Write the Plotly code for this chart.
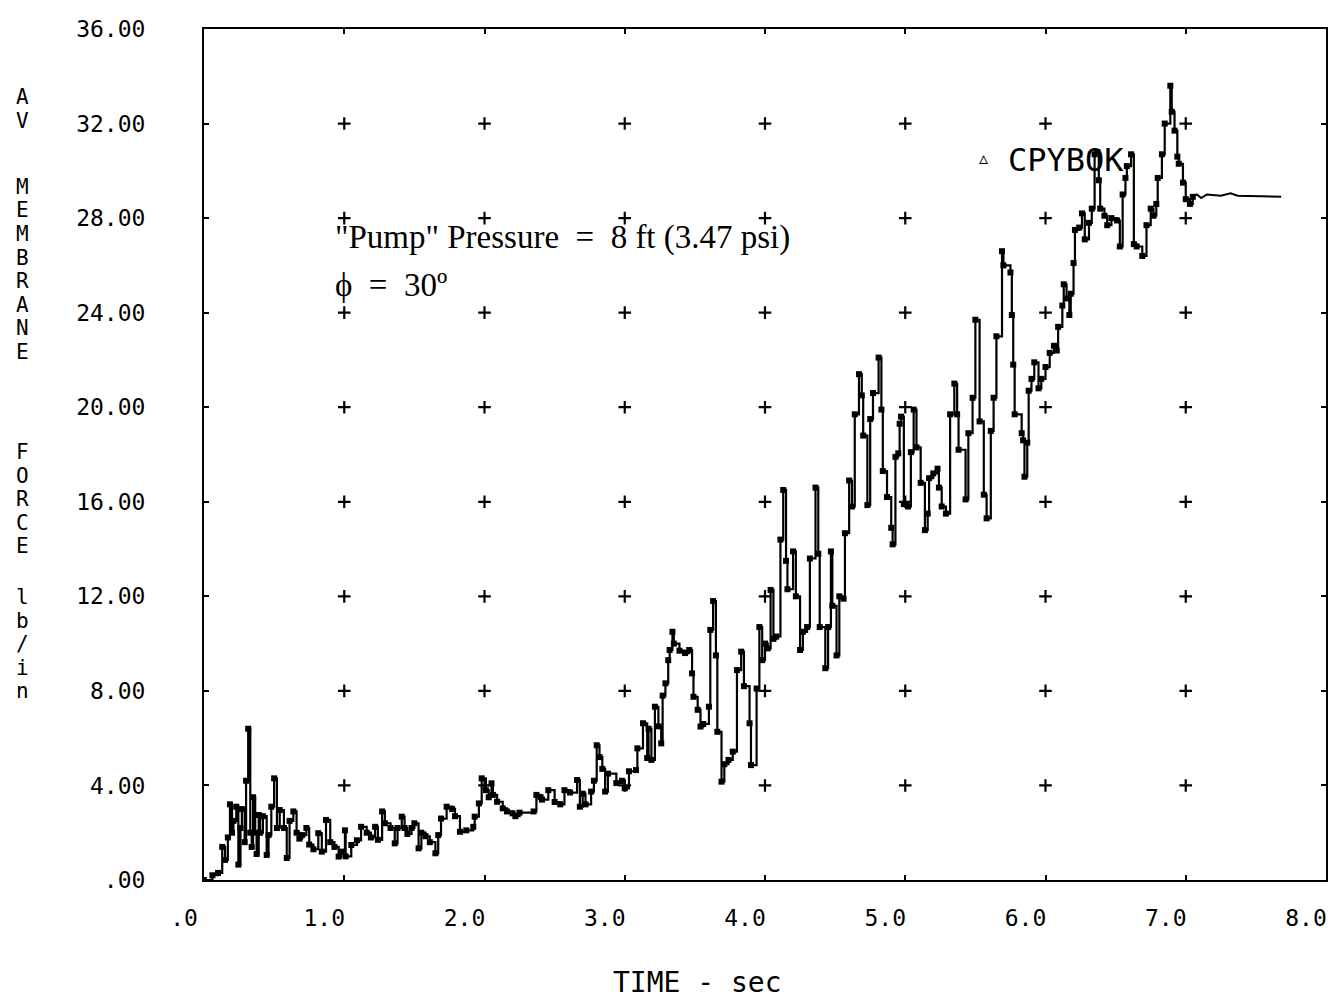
import plotly.graph_objects as go

# ---------------- data ----------------
t_vals = [0.00, 0.06, 0.10, 0.13, 0.15, 0.17, 0.185, 0.20, 0.21, 0.23, 0.245, 0.26, 0.27, 0.29, 0.30, 0.315,
          0.33, 0.34, 0.35, 0.365, 0.375, 0.39, 0.40, 0.42, 0.447, 0.46, 0.48, 0.50, 0.52, 0.54, 0.57, 0.59,
          0.61, 0.637, 0.66, 0.68, 0.70, 0.73, 0.75, 0.78, 0.815, 0.84, 0.87, 0.90, 0.93, 0.96, 0.98, 1.005,
          1.01, 1.05, 1.09, 1.12, 1.16, 1.19, 1.22, 1.24, 1.27, 1.29, 1.33, 1.36, 1.38, 1.41, 1.43, 1.45,
          1.48, 1.50, 1.53, 1.55, 1.58, 1.61, 1.65, 1.67, 1.69, 1.73, 1.77, 1.79, 1.825, 1.87, 1.92, 1.93,
          1.96, 1.98, 2.01, 2.03, 2.05, 2.06, 2.09, 2.13, 2.16, 2.20, 2.22, 2.25, 2.35, 2.37, 2.40, 2.41,
          2.455, 2.50, 2.54, 2.57, 2.61, 2.66, 2.68, 2.70, 2.72, 2.76, 2.78, 2.80, 2.82, 2.84, 2.86, 2.88,
          2.94, 2.98, 3.00, 3.03, 3.08, 3.09, 3.13, 3.16, 3.17, 3.19, 3.215, 3.24, 3.26, 3.27, 3.29, 3.31,
          3.32, 3.34, 3.35, 3.39, 3.43, 3.46, 3.48, 3.49, 3.52, 3.54, 3.56, 3.60, 3.61, 3.63, 3.65, 3.66,
          3.69, 3.71, 3.74, 3.77, 3.80, 3.83, 3.85, 3.89, 3.90, 3.94, 3.96, 3.98, 4.00, 4.02, 4.04, 4.06,
          4.08, 4.11, 4.13, 4.15, 4.16, 4.20, 4.22, 4.25, 4.27, 4.30, 4.32, 4.36, 4.38, 4.39, 4.43, 4.45,
          4.47, 4.48, 4.51, 4.53, 4.56, 4.57, 4.60, 4.62, 4.64, 4.67, 4.69, 4.70, 4.73, 4.75, 4.77, 4.81,
          4.83, 4.84, 4.87, 4.90, 4.91, 4.93, 4.95, 4.96, 4.97, 4.99, 5.02, 5.04, 5.06, 5.08, 5.11, 5.14,
          5.16, 5.17, 5.20, 5.23, 5.24, 5.26, 5.29, 5.32, 5.35, 5.37, 5.38, 5.43, 5.45, 5.48, 5.50, 5.53,
          5.56, 5.58, 5.61, 5.63, 5.65, 5.69, 5.70, 5.75, 5.76, 5.77, 5.78, 5.83, 5.84, 5.85, 5.87, 5.88,
          5.90, 5.92, 5.95, 5.97, 6.00, 6.03, 6.06, 6.08, 6.09, 6.12, 6.13, 6.15, 6.17, 6.18, 6.20, 6.21,
          6.24, 6.26, 6.28, 6.31, 6.33, 6.35, 6.37, 6.38, 6.39, 6.42, 6.44, 6.47, 6.51, 6.53, 6.55, 6.57,
          6.58, 6.61, 6.63, 6.65, 6.69, 6.72, 6.75, 6.77, 6.79, 6.80, 6.83, 6.85, 6.89, 6.90, 6.92, 6.94,
          6.95, 6.98, 7.00, 7.03, 7.05]
force_vals = [0.0, 0.2, 0.3, 1.4, 0.85, 1.8, 3.2, 2.0, 2.5, 3.1, 0.65, 2.2, 3.0, 1.6, 4.2, 6.4,
              2.0, 1.4, 3.5, 2.0, 1.1, 2.75, 2.0, 2.7, 1.06, 1.9, 3.1, 4.3, 2.2, 2.96, 2.2, 0.93,
              2.5, 2.9, 2.0, 1.75, 1.9, 2.2, 1.5, 1.3, 1.98, 1.2, 2.54, 1.6, 1.4, 0.99, 1.2, 2.1,
              1.0, 1.48, 1.68, 2.25, 2.0, 1.8, 2.25, 1.7, 2.9, 2.4, 2.2, 1.55, 2.2, 2.68, 2.2, 1.95,
              2.2, 2.4, 1.34, 2.0, 1.85, 1.6, 1.13, 1.9, 2.6, 3.1, 3.0, 2.7, 2.04, 2.1, 2.25, 2.68,
              3.24, 4.3, 3.8, 3.5, 4.09, 3.6, 3.31, 3.03, 2.9, 2.82, 2.7, 2.85, 2.9, 3.6, 3.5, 3.4,
              3.8, 3.3, 3.2, 3.8, 3.7, 4.23, 3.1, 3.65, 3.2, 3.74, 4.2, 5.7, 5.2, 4.7, 3.74, 4.5,
              4.1, 4.2, 3.88, 4.6, 4.65, 5.57, 6.63, 5.16, 6.4, 5.08, 7.33, 6.5, 5.78, 7.8, 8.32, 9.3,
              9.73, 10.5, 10.0, 9.7, 9.6, 9.73, 8.74, 7.75, 7.2, 6.49, 6.6, 7.33, 10.58, 11.8, 9.5, 6.27,
              4.16, 4.9, 5.08, 5.43, 8.88, 9.66, 8.2, 6.63, 4.86, 8.1, 10.7, 9.3, 10.0, 9.8, 12.27, 10.2,
              10.3, 14.4, 16.5, 13.5, 12.3, 13.9, 12.0, 9.73, 10.5, 10.7, 13.6, 16.6, 13.8, 10.7, 8.96, 10.7,
              13.9, 11.6, 9.5, 12.0, 11.9, 14.67, 16.9, 15.8, 19.7, 21.4, 20.5, 18.8, 15.86, 19.5, 20.6, 22.1,
              19.9, 17.3, 16.2, 14.9, 14.2, 17.9, 18.05, 19.3, 19.6, 15.9, 15.8, 18.1, 19.9, 18.3, 16.8, 14.8,
              15.5, 17.0, 17.2, 17.4, 16.6, 15.8, 15.5, 19.7, 21.0, 19.7, 18.2, 16.1, 18.9, 20.4, 23.7, 19.4,
              16.3, 15.3, 19.0, 20.4, 23.0, 26.6, 26.0, 25.7, 23.9, 21.8, 19.7, 18.9, 18.6, 17.06, 18.5, 20.7,
              21.2, 21.9, 20.8, 21.2, 21.7, 22.3, 22.6, 22.4, 23.4, 24.3, 25.2, 24.6, 23.9, 24.8, 26.1, 27.5,
              27.6, 28.2, 27.1, 27.8, 28.4, 30.7, 30.8, 29.6, 28.4, 28.1, 27.7, 28.0, 27.9, 26.8, 29.0, 29.7,
              30.2, 30.7, 26.9, 26.8, 26.4, 27.7, 28.4, 28.1, 28.6, 29.7, 30.7, 32.0, 33.6, 32.5, 31.7, 30.6,
              30.3, 29.5, 28.8, 28.6, 28.9]
# settled tail (no markers)
tail_t = [7.05, 7.08, 7.11, 7.15, 7.25, 7.32, 7.37, 7.68]
tail_force = [28.9, 29.0, 28.85, 29.0, 28.95, 29.05, 28.95, 28.9]

x_ticks = [0, 1, 2, 3, 4, 5, 6, 7, 8]
x_tick_text = [".0", "1.0", "2.0", "3.0", "4.0", "5.0", "6.0", "7.0", "8.0"]
y_ticks = [0, 4, 8, 12, 16, 20, 24, 28, 32, 36]
y_tick_text = [".00", "4.00", "8.00", "12.00", "16.00", "20.00", "24.00", "28.00", "32.00", "36.00"]

series_name = "CPYBOK"
x_title = "TIME - sec"
y_title_chars = ["A", "V", "M", "E", "M", "B", "R", "A", "N", "E",
                 "F", "O", "R", "C", "E", "l", "b", "/", "i", "n"]
note_line1 = "\"Pump\" Pressure\u2002=\u20028 ft (3.47 psi)"
note_line2 = "\u03d5\u2002=\u200230\u00ba"

# ---------------- layout geometry (pixels) ----------------
W, H = 1339, 1000
L, R, T, B = 204, 1326, 29, 880
MONO = "DejaVu Sans Mono"
SERIF = "Liberation Serif"


def px_x(p):
    return (p - L) / (R - L)


def px_y(p):
    return (B - p) / (B - T)


fig = go.Figure()

# grid "+" marks at interior tick intersections
gx, gy = [], []
for xv in x_ticks[1:-1]:
    for yv in y_ticks[1:-1]:
        gx.append(xv)
        gy.append(yv)
fig.add_trace(go.Scatter(
    x=gx, y=gy, mode="markers", showlegend=False, hoverinfo="skip",
    marker=dict(symbol="cross-thin", size=9, line=dict(width=2.2, color="black"), color="black"),
))

fig.add_trace(go.Scatter(
    x=tail_t, y=tail_force, mode="lines", showlegend=False,
    line=dict(color="black", width=2),
))
fig.add_trace(go.Scatter(
    x=t_vals, y=force_vals, mode="lines+markers", name=series_name, showlegend=False,
    line=dict(color="black", width=2.2, shape="hv"),
    marker=dict(symbol="square", size=6, color="black"),
))

axis_common = dict(
    showline=True, linecolor="black", linewidth=2, mirror="ticks",
    ticks="inside", ticklen=5, tickwidth=1.5, tickcolor="black",
    showgrid=False, zeroline=False, ticklabeloverflow="allow", automargin=False,
    tickfont=dict(family=MONO, size=23, color="black"),
)

# tick labels sit slightly left of their tick, as on the plotter
fig.update_xaxes(range=[0, 8], tickvals=x_ticks, ticktext=x_tick_text,
                 ticklabelstandoff=16, ticklabelshift=-20, **axis_common)
fig.update_yaxes(range=[0, 36], tickvals=y_ticks, ticktext=y_tick_text,
                 ticklabelstandoff=52, **axis_common)

annotations = []
# y-axis title: stacked characters
y_char_px = [97, 121,
             187, 210.5, 234, 257.5, 281, 304.5, 328, 351.5,
             452, 475.5, 499, 522.5, 546,
             597, 620.5, 644, 667.5, 691]
for ch, yp in zip(y_title_chars, y_char_px):
    annotations.append(dict(
        text=ch, xref="paper", yref="paper", x=px_x(22), y=px_y(yp),
        xanchor="center", yanchor="middle", showarrow=False,
        font=dict(family=MONO, size=21, color="black"),
    ))
# x-axis title
annotations.append(dict(
    text=x_title, xref="paper", yref="paper", x=px_x(697), y=px_y(982),
    xanchor="center", yanchor="middle", showarrow=False,
    font=dict(family=MONO, size=28, color="black"),
))
# notes
annotations.append(dict(
    text=note_line1, xref="paper", yref="paper", x=px_x(333), y=px_y(237),
    xanchor="left", yanchor="middle", showarrow=False,
    font=dict(family=SERIF, size=33, color="black"),
))
annotations.append(dict(
    text=note_line2, xref="paper", yref="paper", x=px_x(333), y=px_y(285),
    xanchor="left", yanchor="middle", showarrow=False,
    font=dict(family=SERIF, size=33, color="black"),
))
# legend-like label
annotations.append(dict(
    text="\u25b5", xref="paper", yref="paper", x=px_x(983), y=px_y(158),
    xanchor="center", yanchor="middle", showarrow=False,
    font=dict(family="DejaVu Sans", size=18, color="black"),
))
annotations.append(dict(
    text=series_name, xref="paper", yref="paper", x=px_x(1006), y=px_y(160),
    xanchor="left", yanchor="middle", showarrow=False,
    font=dict(family=MONO, size=32, color="black"),
))

fig.update_layout(
    width=W, height=H,
    margin=dict(l=L, r=W - R, t=T, b=H - B, pad=0, autoexpand=False),
    paper_bgcolor="white", plot_bgcolor="white",
    showlegend=False,
    annotations=annotations,
)

fig.write_html("out.html", config={"displayModeBar": False},
               post_script="document.body.style.margin='0';")
